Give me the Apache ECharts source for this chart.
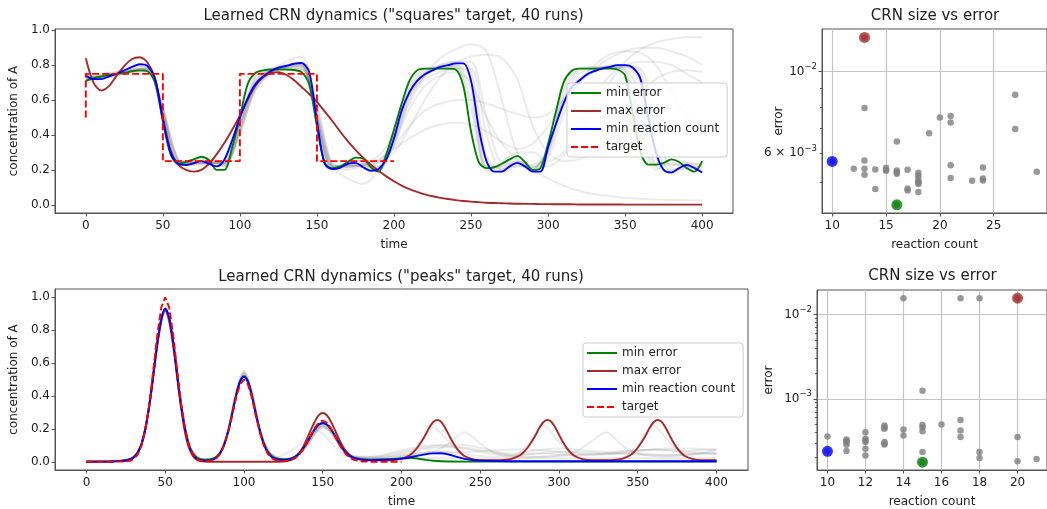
<!DOCTYPE html>
<html>
<head>
<meta charset="utf-8">
<script src="https://cdn.jsdelivr.net/npm/echarts@6/dist/echarts.min.js"></script>
<style>
  html, body { margin: 0; padding: 0; background: #fff; }
  #chart { width: 1047px; height: 509px; }
</style>
</head>
<body>
<div id="chart"></div>
<script>
const FONT = 'DejaVu Sans';
const TEXT = '#222';
const SPINE = '#555';
const GRAY_RUN = 'rgba(128,128,128,0.16)';

// ── "squares" panel: colored runs sampled every 5 time units ──
const squaresStep = 5;
const squaresMinError = [
  .71, .725, .735, .745, .75, .755, .765, .77, .765, .70,
  .48, .29, .235, .245, .26, .275, .255, .20, .20, .33,
  .50, .69, .755, .77, .775, .775, .775, .772, .76, .69,
  .45, .24, .21, .22, .245, .27, .265, .215, .19, .29,
  .43, .58, .71, .77, .78, .78, .78, .78, .775, .68,
  .42, .245, .21, .215, .235, .26, .28, .245, .20, .21,
  .35, .53, .70, .765, .78, .78, .78, .78, .78, .775,
  .74, .52, .30, .23, .23, .24, .26, .245, .21, .19,
  .25
];
const squaresMaxError = [
  .84, .70, .655, .68, .74, .795, .835, .845, .815, .72,
  .50, .31, .23, .20, .19, .20, .235, .29, .355, .43,
  .51, .60, .68, .73, .755, .76, .745, .715, .675, .635,
  .59, .535, .48, .42, .365, .315, .27, .23, .195, .163,
  .135, .11, .09, .074, .06, .049, .04, .033, .027, .022,
  .018, .015, .012, .010, .009, .007, .006, .005, .005, .004,
  .004, .003, .003, .003, .002, .002, .002, .002, .002, .002,
  .001, .001, .001, .001, .001, .001, .001, .001, .001, .001,
  .001
];
const squaresMinCount = [
  .74, .72, .72, .735, .75, .77, .79, .805, .795, .72,
  .49, .30, .235, .228, .238, .25, .235, .22, .26, .37,
  .50, .61, .69, .735, .765, .785, .795, .808, .812, .76,
  .48, .235, .205, .212, .235, .24, .215, .195, .205, .26,
  .38, .54, .645, .71, .748, .77, .79, .80, .81, .81,
  .71, .44, .25, .19, .19, .22, .24, .22, .19, .19,
  .33, .46, .58, .67, .71, .745, .765, .78, .79, .80,
  .80, .785, .72, .50, .30, .20, .185, .21, .228, .21,
  .185
];
const squaresTarget = [[0, .5], [0, .75], [50, .75], [50, .25], [100, .25], [100, .75], [150, .75], [150, .25], [200, .25]];

// gray runs, sampled every 10 time units
const squaresGrayStep = 10;
const squaresGray = [
  [.72,.73,.75,.765,.77, .52,.24,.25,.25,.22, .45,.74,.775,.78,.77, .50,.21,.23,.24,.20, .40,.68,.77,.785,.785, .55,.22,.22,.25,.21, .30,.65,.77,.785,.785, .77,.45,.22,.24,.22, .22],
  [.73,.73,.76,.79,.80, .50,.23,.24,.24,.25, .50,.70,.77,.80,.81, .47,.21,.23,.22,.20, .37,.64,.75,.79,.80, .72,.21,.21,.23,.20, .33,.60,.72,.77,.79, .79,.70,.22,.20,.21, .20],
  [.72,.74,.75,.77,.78, .51,.24,.25,.26,.23, .48,.72,.77,.79,.80, .49,.22,.23,.23,.21, .38,.66,.76,.79,.80, .66,.22,.22,.25,.21, .31,.62,.75,.78,.79, .78,.62,.23,.23,.23, .21],
  [.74,.73,.75,.78,.79, .55,.25,.23,.24,.25, .47,.66,.76,.82,.85, .55,.22,.20,.22,.22, .34,.60,.74,.80,.82, .77,.28,.20,.22,.22, .30,.56,.70,.77,.80, .80,.76,.32,.20,.21, .22],
  [.70,.72,.74,.76,.76, .56,.26,.23,.23,.23, .40,.68,.76,.78,.78, .58,.22,.15,.12,.20, .40,.63,.72,.76,.78, .78,.40,.20,.22,.23, .27,.52,.70,.77,.79, .79,.78,.50,.22,.24, .23],
  [.71,.75,.76,.77,.77, .50,.22,.26,.27,.22, .43,.73,.77,.78,.78, .48,.19,.24,.26,.19, .42,.70,.78,.79,.79, .60,.19,.23,.27,.20, .34,.67,.78,.79,.79, .76,.40,.20,.26,.24, .23],
  [.73,.74,.76,.78,.78, .52,.25,.24,.24,.24, .45,.70,.78,.80,.80, .50,.22,.22,.24,.28, .40,.58,.74,.84,.89, .92,.88,.60,.30,.22, .22,.28,.40,.55,.70, .82,.89,.93,.95,.96, .96],
  [.72,.73,.75,.77,.78, .55,.26,.24,.24,.24, .42,.65,.75,.79,.80, .55,.24,.22,.23,.26, .32,.38,.43,.46,.47, .46,.42,.36,.32,.35, .45,.58,.70,.80,.86, .88,.87,.80,.65,.50, .40],
  [.73,.74,.75,.77,.78, .55,.26,.24,.24,.24, .42,.66,.76,.79,.80, .52,.23,.22,.23,.25, .36,.55,.68,.74,.76, .70,.50,.35,.26,.20, .15,.11,.08,.06,.05, .04,.035,.03,.028,.026, .025],
  [.72,.74,.75,.77,.78, .53,.25,.24,.24,.24, .43,.67,.76,.79,.79, .52,.23,.22,.22,.24, .33,.45,.54,.58,.60, .60,.58,.55,.52,.50, .52,.60,.70,.78,.84, .88,.90,.90,.88,.85, .80],
  [.73,.73,.75,.77,.79, .53,.24,.25,.25,.24, .46,.69,.77,.80,.81, .50,.22,.22,.23,.24, .30,.44,.60,.73,.81, .85,.86,.84,.72,.45, .30,.25,.26,.30,.40, .52,.63,.72,.76,.77, .76],
  [.72,.73,.74,.76,.77, .54,.25,.25,.25,.23, .44,.70,.77,.79,.79, .51,.22,.21,.23,.22, .35,.62,.75,.80,.82, .82,.50,.25,.30,.30, .25,.30,.45,.62,.74, .80,.82,.82,.80,.75, .70]
];

// ── "peaks" panel: [time, concentration] ──
const peaksTarget = [[0,0],[15,0],[20,.001],[25,.002],[27.5,.006],[30,.017],[32.5,.044],[35,.10],[37.5,.203],[40,.36],[42.5,.563],[45,.775],[47.5,.938],[50,1.0],[52.5,.938],[55,.775],[57.5,.563],[60,.36],[62.5,.203],[65,.10],[67.5,.044],[70,.017],[72.5,.006],[75,.003],[77.5,.004],[80,.009],[82.5,.022],[85,.05],[87.5,.10],[90,.18],[92.5,.28],[95,.39],[97.5,.47],[100,.5],[102.5,.47],[105,.39],[107.5,.28],[110,.18],[112.5,.10],[115,.05],[117.5,.022],[120,.01],[125,.004],[127.5,.006],[130,.011],[132.5,.023],[135,.043],[137.5,.074],[140,.114],[142.5,.161],[145,.206],[147.5,.238],[150,.25],[152.5,.238],[155,.206],[157.5,.161],[160,.114],[162.5,.074],[165,.043],[167.5,.023],[170,.011],[175,.002],[180,0],[200,0]];
const peaksMinCount = [[0,0],[15,.002],[20,.004],[25,.008],[27.5,.014],[30,.027],[32.5,.055],[35,.11],[37.5,.205],[40,.35],[42.5,.535],[45,.725],[47.5,.87],[50,.932],[52.5,.875],[55,.73],[57.5,.535],[60,.35],[62.5,.2],[65,.1],[67.5,.045],[70,.02],[72.5,.01],[75,.007],[77.5,.008],[80,.013],[82.5,.026],[85,.055],[87.5,.105],[90,.185],[92.5,.29],[95,.4],[97.5,.485],[100,.515],[102.5,.485],[105,.4],[107.5,.29],[110,.19],[112.5,.11],[115,.058],[117.5,.03],[120,.017],[125,.011],[127.5,.013],[130,.018],[132.5,.03],[135,.05],[137.5,.08],[140,.115],[142.5,.158],[145,.198],[147.5,.225],[150,.234],[152.5,.226],[155,.2],[157.5,.162],[160,.12],[162.5,.082],[165,.052],[167.5,.033],[170,.022],[175,.013],[180,.01],[190,.012],[200,.019],[205,.026],[210,.036],[215,.045],[220,.051],[225,.052],[230,.044],[235,.03],[240,.018],[245,.011],[250,.007],[260,.004],[280,.003],[320,.003],[400,.003]];
const peaksMinError = [[0,0],[15,.002],[20,.004],[25,.009],[27.5,.015],[30,.028],[32.5,.056],[35,.11],[37.5,.205],[40,.35],[42.5,.53],[45,.72],[47.5,.865],[50,.925],[52.5,.87],[55,.725],[57.5,.535],[60,.35],[62.5,.205],[65,.105],[67.5,.05],[70,.026],[72.5,.016],[75,.013],[77.5,.014],[80,.018],[82.5,.03],[85,.058],[87.5,.108],[90,.188],[92.5,.293],[95,.405],[97.5,.49],[100,.52],[102.5,.49],[105,.405],[107.5,.295],[110,.195],[112.5,.115],[115,.064],[117.5,.035],[120,.022],[125,.015],[127.5,.016],[130,.02],[132.5,.032],[135,.052],[137.5,.082],[140,.118],[142.5,.16],[145,.2],[147.5,.227],[150,.236],[152.5,.228],[155,.202],[157.5,.165],[160,.124],[162.5,.086],[165,.056],[167.5,.036],[170,.025],[175,.016],[180,.013],[190,.015],[200,.021],[205,.024],[210,.02],[215,.012],[220,.006],[230,.002],[250,.001],[400,.001]];
const peaksMaxError = [[0,0],[15,.002],[20,.004],[25,.008],[27.5,.014],[30,.027],[32.5,.055],[35,.11],[37.5,.205],[40,.35],[42.5,.53],[45,.715],[47.5,.86],[50,.92],[52.5,.86],[55,.71],[57.5,.52],[60,.33],[62.5,.18],[65,.085],[67.5,.035],[70,.012],[72.5,.004],[75,.001],[80,0],[120,0],[125,.002],[127.5,.005],[130,.011],[132.5,.025],[135,.05],[137.5,.09],[140,.14],[142.5,.195],[145,.245],[147.5,.283],[150,.296],[152.5,.284],[155,.248],[157.5,.198],[160,.145],[162.5,.098],[165,.062],[167.5,.038],[170,.024],[175,.012],[180,.009],[190,.009],[195,.011],[200,.018],[205,.038],[207.5,.058],[210,.085],[212.5,.12],[215,.16],[217.5,.205],[220,.24],[222.5,.254],[225,.245],[227.5,.21],[230,.165],[232.5,.12],[235,.083],[237.5,.055],[240,.035],[245,.016],[250,.01],[260,.009],[265,.011],[270,.018],[275,.038],[277.5,.058],[280,.085],[282.5,.12],[285,.16],[287.5,.205],[290,.24],[292.5,.254],[295,.245],[297.5,.21],[300,.165],[302.5,.12],[305,.083],[307.5,.055],[310,.035],[315,.016],[320,.01],[330,.009],[335,.011],[340,.018],[345,.038],[347.5,.058],[350,.085],[352.5,.12],[355,.16],[357.5,.205],[360,.24],[362.5,.254],[365,.245],[367.5,.21],[370,.165],[372.5,.12],[375,.083],[377.5,.055],[380,.035],[385,.016],[390,.01],[400,.01]];

const peaksGrayT = [0,10,20,25,30,35,40,45,50,55,60,65,70,75,80,85,90,95,100,105,110,115,120,125,130,135,140,145,150,155,160,165,170,180,190,200,210,220,230,240,250,260,270,280,290,300,310,320,330,340,350,360,370,380,390,400];
const peaksGray = [
  [0,.001,.005,.01,.03,.11,.35,.72,.93,.73, .35,.11,.03,.012,.015,.055,.19,.41,.54,.42, .2,.07,.025,.015,.02,.05,.11,.19,.23,.2, .12,.06,.03,
   .02,.025,.035,.05,.06,.055,.045,.035,.03,.035,.045,.05,.045,.04,.04,.045,.05,.05,.045,.04,.045,.05,.05],
  [0,.001,.004,.009,.028,.105,.34,.71,.92,.72, .34,.10,.025,.008,.012,.05,.19,.42,.55,.43, .2,.07,.02,.01,.015,.045,.1,.18,.22,.19, .11,.05,.025,
   .02,.03,.05,.07,.085,.09,.085,.07,.055,.05,.06,.075,.08,.075,.065,.06,.065,.07,.075,.07,.065,.07,.075],
  [0,.001,.005,.01,.03,.11,.35,.72,.91,.72, .35,.11,.03,.01,.015,.055,.19,.41,.53,.41, .19,.07,.03,.04,.07,.10,.16,.19,.17,.12, .07,.04,.025,
   .02,.02,.03,.04,.06,.11,.18,.11,.05,.03,.025,.03,.04,.06,.12,.18,.10,.05,.035,.03,.035,.05,.07],
  [0,.001,.004,.009,.028,.105,.34,.7,.9,.7, .33,.1,.025,.008,.012,.05,.18,.4,.52,.4, .18,.06,.02,.012,.02,.05,.1,.17,.21,.18, .11,.05,.025,
   .015,.012,.02,.09,.21,.12,.03,.012,.01,.02,.1,.22,.12,.03,.012,.01,.02,.1,.22,.12,.03,.012,.01],
  [0,.001,.005,.011,.032,.115,.36,.73,.93,.74, .36,.115,.032,.012,.016,.056,.195,.42,.54,.42, .2,.075,.028,.016,.02,.048,.1,.17,.21,.18, .115,.06,.035,
   .03,.045,.07,.09,.1,.095,.08,.06,.045,.04,.045,.055,.06,.06,.055,.05,.055,.065,.075,.08,.08,.078,.075],
  [0,0,.003,.008,.026,.1,.34,.72,.935,.73, .34,.1,.024,.006,.01,.048,.185,.415,.535,.415, .185,.06,.018,.008,.012,.04,.095,.175,.22,.19, .11,.045,.018,
   .008,.01,.015,.02,.025,.025,.022,.02,.02,.022,.025,.025,.022,.02,.02,.022,.025,.025,.022,.02,.02,.022,.025],
  [0,.001,.004,.01,.03,.11,.35,.72,.92,.72, .35,.11,.03,.012,.018,.06,.2,.43,.55,.43, .2,.075,.03,.018,.022,.05,.105,.18,.215,.185, .115,.055,.03,
   .025,.03,.04,.05,.06,.06,.06,.065,.07,.075,.075,.07,.06,.05,.045,.05,.06,.07,.075,.07,.06,.055,.05],
  [0,.001,.005,.01,.03,.11,.35,.73,.93,.73, .35,.11,.03,.012,.016,.055,.19,.41,.53,.41, .19,.07,.028,.018,.025,.06,.12,.19,.22,.18, .11,.055,.03,
   .03,.04,.06,.08,.095,.105,.1,.085,.06,.04,.03,.03,.035,.04,.045,.05,.05,.045,.04,.04,.045,.05,.05]
];

// ── scatter: reaction count vs error (40 runs each) ──
const squaresCount = [13,10,16,13,13,13,13,12,14,14,15,15,15,16,16,16,16,17,17,17,18,18,18,18,18,18,18,19,20,21,21,21,21,23,24,24,24,27,27,29];
const squaresError = [0.01236,0.00570,0.004348,0.00796,0.00573,0.005443,0.005244,0.005443,0.00542,0.004795,0.005477,0.005376,0.00540,0.006451,0.005388,0.005331,0.005276,0.005408,0.004815,0.004756,0.005309,0.005211,0.005115,0.005019,0.00500,0.004947,0.004707,0.006795,0.007493,0.007571,0.007263,0.005568,0.005136,0.005050,0.005486,0.005125,0.005060,0.008647,0.006982,0.005341];
const peaksCount = [20,10,15,14,17,18,10,11,11,11,11,11,12,12,12,12,12,12,13,13,13,13,13,14,14,15,15,15,15,15,16,17,17,17,18,18,20,20,21,13];
const peaksError = [0.01563,2.377e-4,1.77e-4,0.01563,0.01563,0.01563,3.58e-4,3.277e-4,3.15e-4,3.05e-4,2.84e-4,2.398e-4,4.02e-4,3.366e-4,3.2e-4,3.079e-4,2.553e-4,2.117e-4,4.81e-4,4.40e-4,3.08e-4,2.95e-4,2.867e-4,4.32e-4,3.68e-4,1.25e-3,4.90e-4,4.60e-4,4.13e-4,2.334e-4,4.94e-4,5.60e-4,4.21e-4,3.52e-4,2.334e-4,1.988e-4,3.52e-4,1.818e-4,1.935e-4,4.6e-4];

// ── ticks ──
const timeTicks = [0, 50, 100, 150, 200, 250, 300, 350, 400];
const concTicks = [0, 0.2, 0.4, 0.6, 0.8, 1.0];
const squaresCountTicks = [10, 15, 20, 25];
const peaksCountTicks = [10, 12, 14, 16, 18, 20];
const squaresMajorErr = [0.01];
const squaresMinorErr = [0.005, 0.006, 0.007, 0.008, 0.009];
const squaresMinorLabel = ['6 × 10', '−3'];
const peaksMajorErr = [0.001, 0.01];
const peaksMinorErr = [2e-4, 3e-4, 4e-4, 5e-4, 6e-4, 7e-4, 8e-4, 9e-4, 2e-3, 3e-3, 4e-3, 5e-3, 6e-3, 7e-3, 8e-3, 9e-3];

const legendNames = ['min error', 'max error', 'min reaction count', 'target'];
const COLORS = { 'min error': '#008000', 'max error': '#a52a2a', 'min reaction count': '#0000ff', 'target': '#ff0000' };

const byStep = (vals, step) => vals.map((v, i) => [i * step, v]);
const zip = (ts, vs) => ts.map((t, i) => [t, vs[i]]);
const lg = Math.log10;

const supRich = {
  b: { fontFamily: FONT, fontSize: 12, color: TEXT, lineHeight: 18 },
  s: { fontFamily: FONT, fontSize: 8.5, color: TEXT, verticalAlign: 'top' }
};
function powLabel(v) {
  const e = Math.round(v);
  return '{b|10}{s|' + (e < 0 ? '−' + (-e) : e) + '}';
}

function baseAxis(gridIndex, extra) {
  return Object.assign({
    gridIndex, type: 'value',
    axisLine: { show: true, onZero: false, lineStyle: { color: SPINE, width: 1 } },
    axisTick: { show: true, length: 3.5, lineStyle: { color: SPINE, width: 1 } },
    axisLabel: { color: TEXT, fontFamily: FONT, fontSize: 12 },
    splitLine: { show: false },
    nameLocation: 'middle',
    nameTextStyle: { color: TEXT, fontFamily: FONT, fontSize: 12 }
  }, extra);
}
const gridSplit = { show: true, lineStyle: { color: '#c4c4c4', width: 1.2 } };
const ticksAt = (vals, len) => ({ show: true, length: len || 3.5, customValues: vals, lineStyle: { color: SPINE } });
const labelsAt = (vals, extra) => Object.assign({ customValues: vals, color: TEXT, fontFamily: FONT, fontSize: 12 }, extra);

const xAxes = [
  baseAxis(0, { min: -20, max: 420, name: 'time', nameGap: 26,
    axisTick: ticksAt(timeTicks), axisLabel: labelsAt(timeTicks, { margin: 7 }) }),
  baseAxis(1, { min: -20, max: 420, name: 'time', nameGap: 26,
    axisTick: ticksAt(timeTicks), axisLabel: labelsAt(timeTicks, { margin: 7 }) }),
  baseAxis(2, { min: 9.05, max: 29.95, name: 'reaction count', nameGap: 26,
    axisTick: ticksAt(squaresCountTicks), axisLabel: labelsAt(squaresCountTicks, { margin: 7 }), splitLine: gridSplit }),
  baseAxis(3, { min: 9.45, max: 21.55, name: 'reaction count', nameGap: 26,
    axisTick: ticksAt(peaksCountTicks), axisLabel: labelsAt(peaksCountTicks, { margin: 7 }), splitLine: gridSplit })
];

const yAxes = [
  baseAxis(0, { min: -0.047, max: 1.007, name: 'concentration of A', nameGap: 33,
    axisTick: ticksAt(concTicks), axisLabel: labelsAt(concTicks, { margin: 5, formatter: v => v.toFixed(1) }) }),
  baseAxis(1, { min: -0.05, max: 1.05, name: 'concentration of A', nameGap: 33,
    axisTick: ticksAt(concTicks), axisLabel: labelsAt(concTicks, { margin: 5, formatter: v => v.toFixed(1) }) }),
  // squares scatter: major + minor ticks (log10 of error)
  baseAxis(2, { min: -2.384, max: -1.885, position: 'left', name: 'error', nameGap: 29,
    axisTick: ticksAt(squaresMajorErr.map(lg)),
    axisLabel: labelsAt(squaresMajorErr.map(lg), { formatter: powLabel, rich: supRich, margin: 5 }),
    splitLine: gridSplit }),
  baseAxis(2, { min: -2.384, max: -1.885, position: 'left',
    axisLine: { show: false, onZero: false },
    axisTick: ticksAt(squaresMinorErr.map(lg), 2),
    axisLabel: labelsAt([lg(0.006)], { rich: supRich, margin: 5,
      formatter: () => '{b|' + squaresMinorLabel[0] + '}{s|' + squaresMinorLabel[1] + '}' }) }),
  // peaks scatter
  baseAxis(3, { min: -3.845, max: -1.709, position: 'left', name: 'error', nameGap: 42,
    axisTick: ticksAt(peaksMajorErr.map(lg)),
    axisLabel: labelsAt(peaksMajorErr.map(lg), { formatter: powLabel, rich: supRich, margin: 5 }),
    splitLine: gridSplit }),
  baseAxis(3, { min: -3.845, max: -1.709, position: 'left',
    axisLine: { show: false, onZero: false },
    axisTick: ticksAt(peaksMinorErr.map(lg), 2),
    axisLabel: { show: false } })
];

function line(name, data, axis, opts) {
  const color = opts.color || COLORS[name];
  return {
    name, type: 'line', data, xAxisIndex: axis, yAxisIndex: axis,
    symbol: 'none', smooth: opts.smooth === undefined ? 0.3 : opts.smooth,
    lineStyle: { color, width: opts.width || 1.9, type: opts.dash || 'solid' },
    itemStyle: { color }, emphasis: { disabled: true }, silent: true, z: opts.z || 3
  };
}

const series = [];
squaresGray.forEach(run => series.push(line('run', byStep(run, squaresGrayStep), 0, { color: GRAY_RUN, width: 2, z: 2 })));
series.push(line('min error', byStep(squaresMinError, squaresStep), 0, {}));
series.push(line('max error', byStep(squaresMaxError, squaresStep), 0, {}));
series.push(line('min reaction count', byStep(squaresMinCount, squaresStep), 0, {}));
series.push(line('target', squaresTarget, 0, { smooth: false, dash: [7, 3] }));

peaksGray.forEach(run => series.push(line('run', zip(peaksGrayT, run), 1, { color: GRAY_RUN, width: 2, z: 2 })));
series.push(line('min error', peaksMinError, 1, {}));
series.push(line('max error', peaksMaxError, 1, {}));
series.push(line('min reaction count', peaksMinCount, 1, {}));
series.push(line('target', peaksTarget, 1, { smooth: false, dash: [7, 3] }));

function scatterSeries(counts, errors, xi, yi) {
  const pts = zip(counts, errors.map(lg));
  let iMin = 0, iMax = 0, iCnt = 0;
  errors.forEach((e, i) => {
    if (e < errors[iMin]) iMin = i;
    if (e > errors[iMax]) iMax = i;
    if (counts[i] < counts[iCnt]) iCnt = i;
  });
  const base = { type: 'scatter', xAxisIndex: xi, yAxisIndex: yi, silent: true, emphasis: { disabled: true } };
  return [
    Object.assign({}, base, { data: pts, symbolSize: 6.5, itemStyle: { color: '#808080' }, z: 3 }),
    Object.assign({}, base, { data: [pts[iMin]], symbolSize: 11, itemStyle: { color: COLORS['min error'] }, z: 4 }),
    Object.assign({}, base, { data: [pts[iMax]], symbolSize: 11, itemStyle: { color: COLORS['max error'] }, z: 4 }),
    Object.assign({}, base, { data: [pts[iCnt]], symbolSize: 11, itemStyle: { color: COLORS['min reaction count'] }, z: 4 })
  ];
}
series.push(...scatterSeries(squaresCount, squaresError, 2, 2));
series.push(...scatterSeries(peaksCount, peaksError, 3, 4));

function legend(left, top) {
  return {
    data: legendNames, orient: 'vertical', left, top,
    padding: [3, 8, 3, 3], itemGap: 4, itemWidth: 30, itemHeight: 14,
    backgroundColor: 'rgba(255,255,255,0.8)', borderColor: '#cccccc', borderWidth: 1, borderRadius: 3,
    itemStyle: { opacity: 0 },
    textStyle: { color: TEXT, fontFamily: FONT, fontSize: 12, lineHeight: 14 },
    selectedMode: false
  };
}

function title(text, x, y) {
  return { type: 'text', x, y, silent: true,
    style: { text, fill: TEXT, font: '15px "' + FONT + '"', align: 'center', verticalAlign: 'middle' } };
}

const chart = echarts.init(document.getElementById('chart'));
chart.setOption({
  animation: false,
  backgroundColor: '#fff',
  grid: [
    { left: 54, top: 29, width: 679, height: 184, show: true, borderColor: SPINE, borderWidth: 1 },
    { left: 54, top: 289, width: 694, height: 184, show: true, borderColor: SPINE, borderWidth: 1 },
    { left: 822, top: 29, width: 226, height: 184, show: true, borderColor: SPINE, borderWidth: 1 },
    { left: 817, top: 290, width: 231, height: 183, show: true, borderColor: SPINE, borderWidth: 1 }
  ],
  xAxis: xAxes,
  yAxis: yAxes,
  legend: [legend(567, 83), legend(583, 343)],
  graphic: [
    title('Learned CRN dynamics ("squares" target, 40 runs)', 393.5, 16),
    title('Learned CRN dynamics ("peaks" target, 40 runs)', 401, 277),
    title('CRN size vs error', 935, 16),
    title('CRN size vs error', 932.5, 276.5)
  ],
  series
});
</script>
</body>
</html>
